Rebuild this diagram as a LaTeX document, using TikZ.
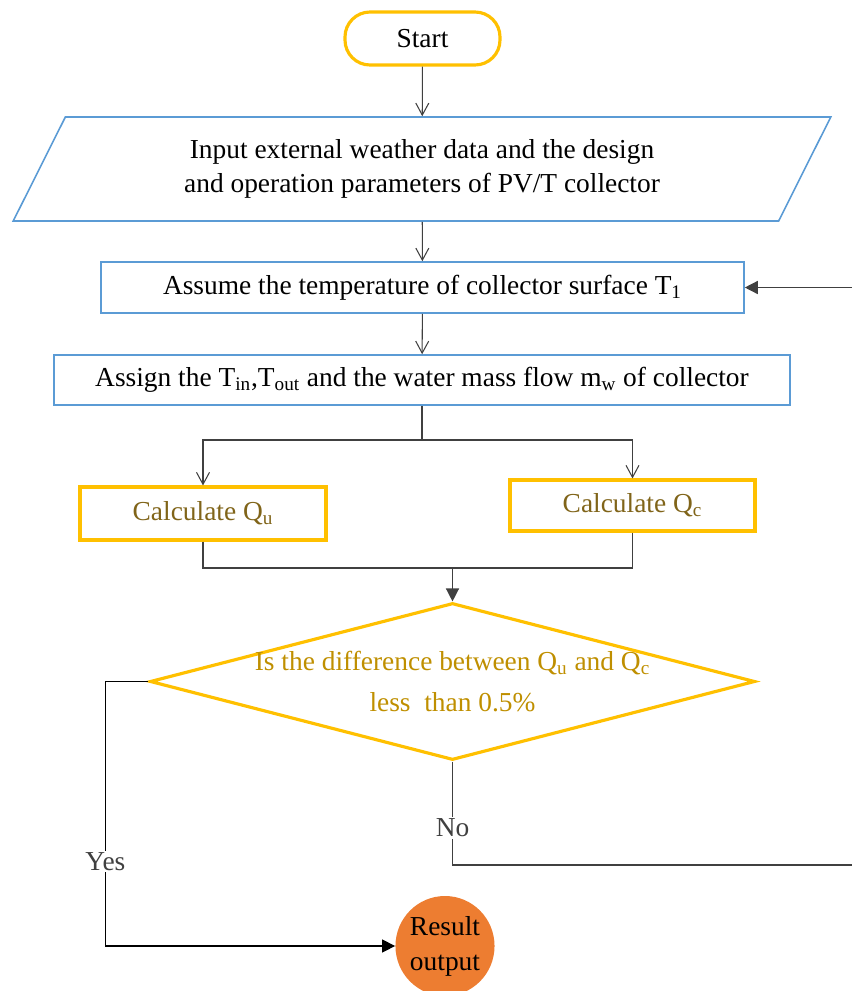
\documentclass[tikz,border=0pt]{standalone}
\usepackage{fontspec}
\setmainfont{Liberation Serif}
\usetikzlibrary{shapes.geometric, arrows.meta}
\definecolor{boxblue}{HTML}{5B9BD5}
\definecolor{calcyellow}{HTML}{FFC000}
\definecolor{calctext}{HTML}{806419}
\definecolor{checktext}{HTML}{BF8F00}
\definecolor{resultorange}{HTML}{ED7D31}
\definecolor{linegray}{HTML}{404040}

\tikzset{
  every node/.style={font=\fontsize{15.6}{19}\selectfont},
  stepbox/.style={rectangle, draw=boxblue, line width=0.9pt, inner sep=0pt},
  calcbox/.style={rectangle, draw=calcyellow, line width=1.8pt, inner sep=0pt, text=calctext},
  arr/.style={draw=linegray, line width=0.6pt, -{Straight Barb[length=2.4mm, width=2.6mm]}},
  arrfill/.style={draw=linegray, line width=0.8pt, -{Triangle[length=2.6mm, width=2.6mm]}},
  link/.style={draw=linegray, line width=0.6pt},
  lbl/.style={fill=white, inner sep=1pt, text=linegray}
}

\begin{document}
\begin{tikzpicture}
            \useasboundingbox (0,0) rectangle (17.04,-19.82);
            % Start
            \node[rectangle, rounded corners=0.5cm, draw=calcyellow, line width=1.8pt, minimum width=3.1cm, minimum height=1.06cm] (start) at (8.45,-0.77) {Start};
            % Input data
            \node[trapezium, trapezium left angle=63, trapezium right angle=117, trapezium stretches=true, draw=boxblue, line width=0.9pt, minimum width=16.36cm, minimum height=2.08cm, align=center, font=\fontsize{15.6}{19}\selectfont] (input) at (8.44,-3.38) {Input external weather data and the design\\and operation parameters of PV/T collector};
            % Assumption and assignment
            \node[stepbox, minimum width=12.86cm, minimum height=1.02cm] (assume) at (8.45,-5.75) {Assume the temperature of collector surface T\textsubscript{1}};
            \node[stepbox, minimum width=14.72cm, minimum height=1.0cm] (assign) at (8.44,-7.6) {Assign the T\textsubscript{in},T\textsubscript{out} and the water mass flow m\textsubscript{w} of collector};
            % Calculations
            \node[calcbox, minimum width=4.92cm, minimum height=1.06cm] (qu) at (4.06,-10.27) {Calculate Q\textsubscript{u}};
            \node[calcbox, minimum width=4.9cm, minimum height=1.02cm] (qc) at (12.65,-10.11) {Calculate Q\textsubscript{c}};
            % Check
            \node[diamond, aspect=3.85, draw=calcyellow, line width=1.8pt, inner sep=-1.6pt, minimum width=12.1cm, minimum height=3.14cm, align=center, text=checktext, font=\fontsize{15.6}{23}\selectfont] (check) at (9.05,-13.63) {Is the difference between Q\textsubscript{u} and Q\textsubscript{c}\\less~ than 0.5\%};
            % Result
            \node[ellipse, fill=resultorange, minimum width=1.86cm, minimum height=2.0cm, inner sep=0pt, align=center, font=\fontsize{15.6}{20}\selectfont] (result) at (8.9,-18.92) {Result\\output};
            % Helper points
            \coordinate (split) at (8.44,-8.8);
            \coordinate (merge) at (9.05,-11.36);
            \coordinate (back) at (17.1,-17.3);
            % Arrows
            \draw[arr] (start) -- (input);
            \draw[arr] (input) -- (assume);
            \draw[arr] (assume) -- (assign);
            \draw[link] (assign.south) -- (split);
            \draw[arr] (split) -| (qu.north);
            \draw[arr] (split) -| (qc.north);
            \draw[link] (qu.south) |- (merge);
            \draw[link] (qc.south) |- (merge);
            \draw[arrfill] (merge) -- (check.north);
            \draw[arrfill, draw=black] (check.west) -- ++(-0.86,0) |- node[lbl, pos=0.34] (yes) {Yes} (result.west);
            \draw[arrfill] (check.south) -- node[lbl, pos=0.64] (no) {No} (check.south |- back) -- (back) |- (assume.east);
        \end{tikzpicture}
\end{document}
